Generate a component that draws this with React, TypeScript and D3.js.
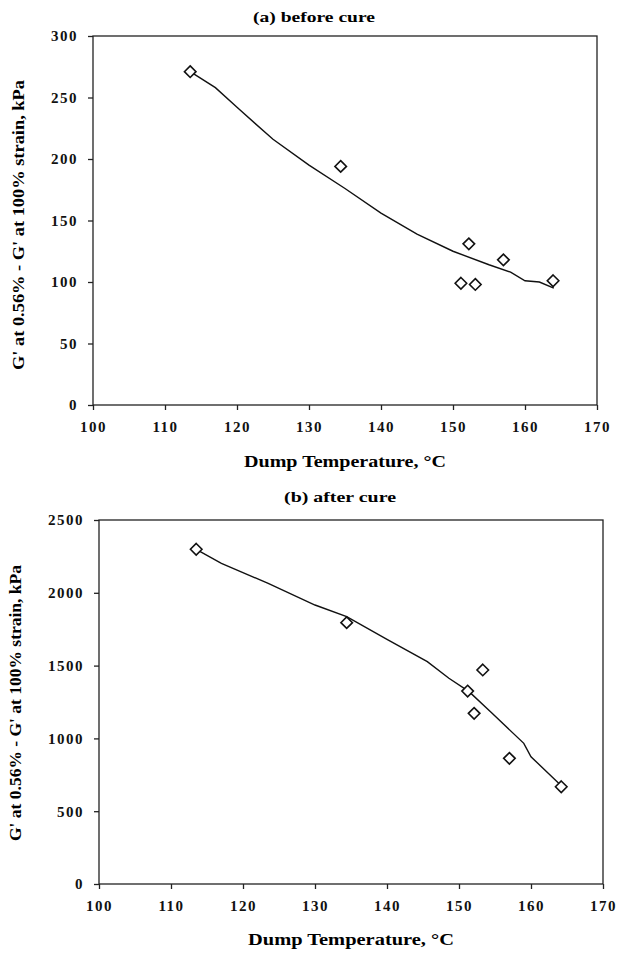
import React, { useEffect, useRef } from "react";
import * as d3 from "d3";

// (a) before cure — measured points
const tempA = [113.5, 134.4, 151.1, 152.2, 153.1, 157.0, 163.9];
const gA = [271, 194, 99, 131, 98, 118, 101];
// trend line
const trendTempA = [113.5, 117, 120, 125, 130, 135, 140, 145, 150, 155, 158, 160, 162, 164];
const trendGA = [271, 258, 242, 216, 195, 176, 156, 139, 125, 114, 108, 101, 100, 95];

// (b) after cure
const tempB = [113.5, 134.4, 151.2, 152.1, 153.3, 157.0, 164.2];
const gB = [2299, 1795, 1325, 1172, 1470, 863, 668];
const trendTempB = [113.5, 117, 123.5, 130, 134.4, 140, 145.6, 148.6, 151.4, 154.6, 159, 160, 164.1];
const trendGB = [2299, 2202, 2065, 1916, 1836, 1680, 1527, 1413, 1321, 1172, 966, 874, 680];

const xTicks = [100, 110, 120, 130, 140, 150, 160, 170];
const yTicksA = [0, 50, 100, 150, 200, 250, 300];
const yTicksB = [0, 500, 1000, 1500, 2000, 2500];

const FONT = "'Liberation Serif', 'DejaVu Serif', serif";
const Y_TITLE = "G' at 0.56% - G' at 100% strain, kPa";
const X_TITLE = "Dump Temperature, \u00B0C";

const App = () => {
  const ref = useRef(null);

  useEffect(() => {
    const svg = d3.select(ref.current);
    svg.selectAll("*").remove();

    const panels = [
      {
        title: "(a) before cure", titleY: 22, titleX: 314, titleLen: 122,
        left: 93, right: 597, top: 36, bottom: 405, yMax: 300,
        yTicks: yTicksA, temps: tempA, vals: gA, tT: trendTempA, tG: trendGA,
        xTitleY: 467, xTitleLen: 202, yTitleX: 24, yTitleY: 225, yTitleLen: 290
      },
      {
        title: "(b) after cure", titleY: 502, titleX: 340, titleLen: 112,
        left: 99, right: 603, top: 520, bottom: 884, yMax: 2500,
        yTicks: yTicksB, temps: tempB, vals: gB, tT: trendTempB, tG: trendGB,
        xTitleY: 945, xTitleLen: 206, yTitleX: 21, yTitleY: 703, yTitleLen: 276
      }
    ];

    panels.forEach(p => {
      const x = d3.scaleLinear().domain([100, 170]).range([p.left, p.right]);
      const y = d3.scaleLinear().domain([0, p.yMax]).range([p.bottom, p.top]);
      const g = svg.append("g");

      g.append("text")
        .attr("x", p.titleX).attr("y", p.titleY)
        .attr("text-anchor", "middle")
        .attr("textLength", p.titleLen).attr("lengthAdjust", "spacingAndGlyphs")
        .style("font", `bold 14px ${FONT}`)
        .text(p.title);

      // plot frame
      g.append("rect")
        .attr("x", p.left).attr("y", p.top)
        .attr("width", p.right - p.left).attr("height", p.bottom - p.top)
        .attr("fill", "none").attr("stroke", "#222").attr("stroke-width", 1.3);

      // x axis
      const xa = g.append("g").attr("transform", `translate(0,${p.bottom})`)
        .call(d3.axisBottom(x).tickValues(xTicks).tickSize(5).tickPadding(11).tickFormat(d3.format("d")));
      xa.select(".domain").remove();
      xa.selectAll("line").attr("stroke", "#222").attr("stroke-width", 1.3);
      xa.selectAll("text").style("font", `bold 15px ${FONT}`).style("letter-spacing", "1.5px").attr("fill", "#111");

      // y axis
      const ya = g.append("g").attr("transform", `translate(${p.left},0)`)
        .call(d3.axisLeft(y).tickValues(p.yTicks).tickSize(5).tickPadding(10).tickFormat(d3.format("d")));
      ya.select(".domain").remove();
      ya.selectAll("line").attr("stroke", "#222").attr("stroke-width", 1.3);
      ya.selectAll("text").style("font", `bold 15px ${FONT}`).style("letter-spacing", "1.5px").attr("fill", "#111");

      g.append("text")
        .attr("x", (p.left + p.right) / 2).attr("y", p.xTitleY)
        .attr("text-anchor", "middle")
        .attr("textLength", p.xTitleLen).attr("lengthAdjust", "spacingAndGlyphs")
        .style("font", `bold 16px ${FONT}`)
        .text(X_TITLE);

      g.append("text")
        .attr("transform", `translate(${p.yTitleX},${p.yTitleY}) rotate(-90)`)
        .attr("text-anchor", "middle")
        .attr("textLength", p.yTitleLen).attr("lengthAdjust", "spacingAndGlyphs")
        .style("font", `bold 16px ${FONT}`)
        .text(Y_TITLE);

      // trend line
      const line = d3.line<number>()
        .x((d, i) => x(p.tT[i]))
        .y(d => y(d));
      g.append("path")
        .datum(p.tG)
        .attr("d", line)
        .attr("fill", "none").attr("stroke", "#111").attr("stroke-width", 1.4);

      // diamonds
      g.append("g").selectAll("path")
        .data(p.vals)
        .join("path")
        .attr("transform", (d, i) => `translate(${x(p.temps[i])},${y(d)})`)
        .attr("d", d3.symbol().type(d3.symbolDiamond2).size(85))
        .attr("fill", "white").attr("stroke", "#111").attr("stroke-width", 1.6);
    });
  }, []);

  return (
    <svg ref={ref} width={617} height={956}
      style={{ position: "absolute", left: 0, top: 0, background: "#fff" }} />
  );
};

export default App;
